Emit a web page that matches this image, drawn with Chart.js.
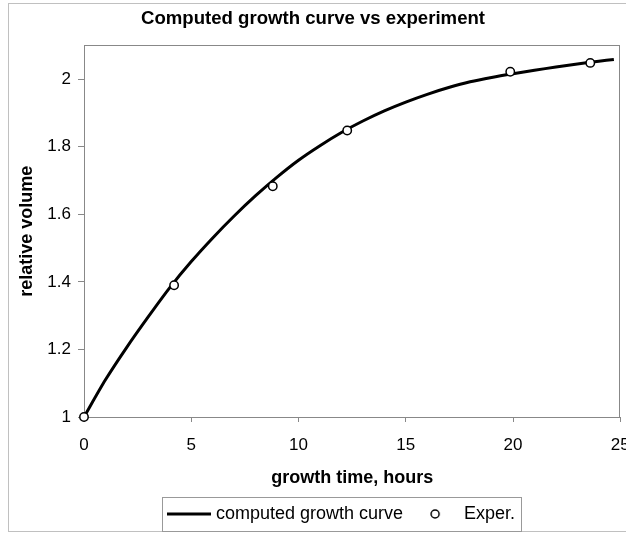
<!DOCTYPE html>
<html>
<head>
<meta charset="utf-8">
<script src="https://cdn.jsdelivr.net/npm/chart.js@4.4.0/dist/chart.umd.min.js"></script>
<style>
html,body{margin:0;padding:0;overflow:hidden;background:#fff}
#wrap{width:626px;height:533px;position:relative}
</style>
</head>
<body>
<div id="wrap"><canvas id="c"></canvas></div>
<script>
// ---- data ----
const curveHours  = [0, 1, 2, 3, 4, 5, 6, 7, 8, 9, 10, 11, 12, 13, 14, 15, 16, 17, 18, 19, 20, 21, 22, 23, 24, 24.7];
const curveVolume = [1.0, 1.11, 1.207, 1.297, 1.383, 1.46, 1.53, 1.595, 1.655, 1.71, 1.76, 1.803, 1.842, 1.876, 1.906, 1.932, 1.955, 1.975, 1.992, 2.005, 2.016, 2.026, 2.036, 2.045, 2.053, 2.058];
const expHours  = [0, 4.2, 8.8, 12.27, 19.87, 23.6];
const expVolume = [1.0, 1.39, 1.683, 1.848, 2.022, 2.048];
const xTickValues = [0, 5, 10, 15, 20, 25];
const yTickValues = [1, 1.2, 1.4, 1.6, 1.8, 2];
const seriesNames = ['computed growth curve', 'Exper.'];

Chart.defaults.font.family = "'Liberation Sans', Arial, sans-serif";
Chart.defaults.color = '#000';

// legend icons
function lineIcon() {
  const c = document.createElement('canvas'); c.width = 96; c.height = 6;
  const g = c.getContext('2d'); g.strokeStyle = '#000'; g.lineWidth = 3;
  g.beginPath(); g.moveTo(30, 3); g.lineTo(74, 3); g.stroke(); return c;
}
function circleIcon() {
  const c = document.createElement('canvas'); c.width = 28; c.height = 14;
  const g = c.getContext('2d'); g.fillStyle = '#fff'; g.strokeStyle = '#000'; g.lineWidth = 1.5;
  g.beginPath(); g.arc(16, 7, 4, 0, Math.PI * 2); g.fill(); g.stroke(); return c;
}
const icons = [lineIcon(), circleIcon()];

const framePlugin = {
  id: 'frame',
  afterLayout(chart) {
    const lg = chart.legend;
    const w = lg.right - lg.left;
    lg.left = 155; lg.right = 155 + w;
  },
  beforeDraw(chart) {
    const ctx = chart.ctx;
    ctx.save();
    ctx.fillStyle = '#fff'; ctx.fillRect(0, 0, chart.width, chart.height);
    ctx.strokeStyle = '#c0c0c0'; ctx.lineWidth = 1;
    ctx.strokeRect(8.5, 3.5, 700, 528);
    ctx.restore();
  },
  beforeDatasetsDraw(chart) {
    const a = chart.chartArea, ctx = chart.ctx;
    ctx.save(); ctx.strokeStyle = '#888'; ctx.lineWidth = 1;
    const l = Math.round(a.left) + 0.5, t = Math.round(a.top) + 0.5;
    const r = Math.round(a.right) - 0.5, b = Math.round(a.bottom) + 0.5;
    ctx.strokeRect(l, t, r - l, b - t);
    ctx.restore();
  },
  afterDraw(chart) {
    const lg = chart.legend, hb = lg.legendHitBoxes, ctx = chart.ctx;
    if (!hb || !hb.length) return;
    const last = hb[hb.length - 1];
    const l = Math.round(hb[0].left - 1) + 0.5;
    const r = Math.round(last.left + last.width + 6) + 0.5;
    const t = Math.round(lg.top) + 0.5;
    ctx.save(); ctx.strokeStyle = '#999'; ctx.lineWidth = 1;
    ctx.strokeRect(l, t, r - l, 531.5 - t);
    ctx.restore();
  }
};

new Chart(document.getElementById('c'), {
  type: 'scatter',
  data: {
    datasets: [
      {
        label: seriesNames[0],
        data: curveHours.map((x, i) => ({x, y: curveVolume[i]})),
        showLine: true, borderColor: '#000', backgroundColor: '#000', borderWidth: 3,
        pointRadius: 0, pointHoverRadius: 0, tension: 0.25, order: 2
      },
      {
        label: seriesNames[1],
        data: expHours.map((x, i) => ({x, y: expVolume[i]})),
        showLine: false, borderColor: '#000', backgroundColor: '#fff', borderWidth: 1.5,
        pointRadius: 4.2, pointStyle: 'circle', order: 1, clip: false
      }
    ]
  },
  options: {
    responsive: true, maintainAspectRatio: false, animation: false,
    layout: { padding: { left: 2, right: 2, top: 0, bottom: 0 } },
    plugins: {
      title: {
        display: true, text: 'Computed growth curve vs experiment', color: '#000',
        font: { size: 18.6, weight: 'bold' }, padding: { top: 8, bottom: 15 }
      },
      legend: {
        position: 'bottom', align: 'start',
        labels: {
          usePointStyle: true, pointStyleWidth: 44, boxHeight: 18, padding: 8,
          color: '#000', font: { size: 18 },
          sort: (a, b) => a.datasetIndex - b.datasetIndex,
          generateLabels(chart) {
            const items = Chart.defaults.plugins.legend.labels.generateLabels(chart);
            items.forEach(it => { it.pointStyle = icons[it.datasetIndex]; });
            return items;
          }
        }
      },
      tooltip: { enabled: false }
    },
    scales: {
      x: {
        type: 'linear', position: 'bottom', min: 0, max: 25,
        afterBuildTicks(s) { s.ticks = xTickValues.map(v => ({value: v})); },
        afterFit(s) { s.paddingLeft = 0; s.paddingRight = 0; s.height = 80; },
        ticks: { font: { size: 17 }, color: '#000', padding: 13, maxRotation: 0,
                 callback: v => String(v) },
        grid: { drawOnChartArea: false, tickLength: 5, color: '#888' },
        border: { color: '#888', width: 1 },
        title: { display: true, text: 'growth time, hours', color: '#000',
                 font: { size: 18, weight: 'bold' }, padding: { top: 4, bottom: 8 } }
      },
      y: {
        type: 'linear', min: 1, max: 2.1,
        afterBuildTicks(s) { s.ticks = yTickValues.map(v => ({value: v})); },
        afterFit(s) { s.width = 82; s.paddingTop = 0; s.paddingBottom = 0; },
        ticks: { font: { size: 17 }, color: '#000', padding: 7,
                 callback: v => String(Number(v.toFixed(1))) },
        grid: { drawOnChartArea: false, tickLength: 6, color: '#888' },
        border: { color: '#888', width: 1 },
        title: { display: true, text: 'relative volume', color: '#000',
                 font: { size: 18, weight: 'bold' }, padding: { top: 14, bottom: 4 } }
      }
    }
  },
  plugins: [framePlugin]
});
</script>
</body>
</html>
